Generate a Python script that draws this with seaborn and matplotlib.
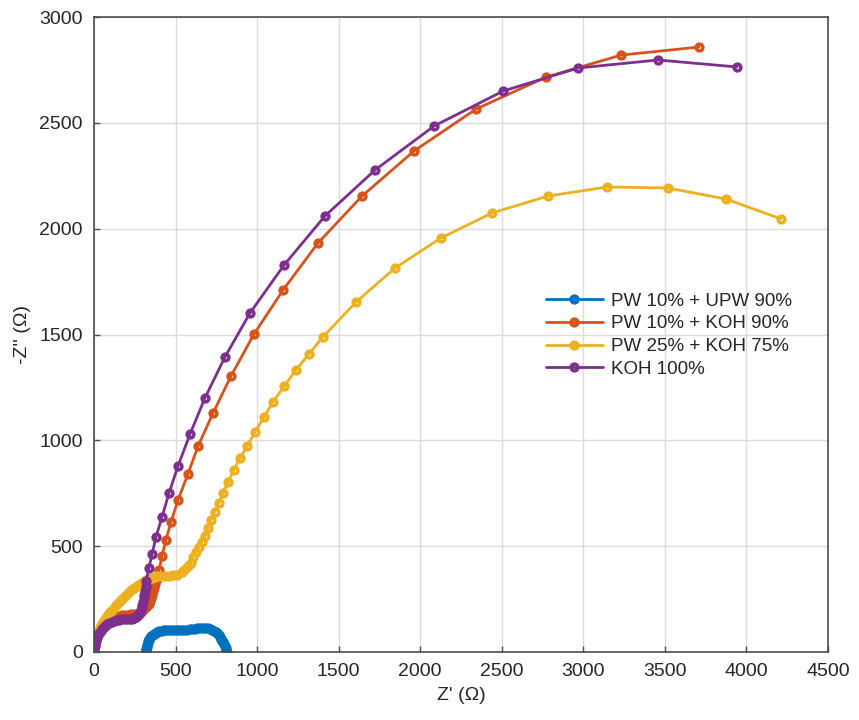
import numpy as np
import pandas as pd
import matplotlib
matplotlib.use("Agg")
import matplotlib.pyplot as plt
import seaborn as sns

# ---- data ----
series_names = ["PW 10% + UPW 90%", "PW 10% + KOH 90%", "PW 25% + KOH 75%", "KOH 100%"]
series_colors = ["#0072BD", "#D95319", "#EDB120", "#7E2F8E"]

blue_x = [318, 319, 321, 323, 326, 329, 333, 338, 344, 351, 359, 368, 378, 389, 401, 414, 428,
          443, 458, 474, 490, 506, 522, 538, 554, 570, 586, 602, 618, 634, 650, 666, 681, 696,
          710, 723, 735, 746, 756, 765, 773, 780, 787, 793, 798, 803, 807, 810, 812, 813]
blue_y = [0, 8, 16, 25, 34, 43, 52, 60, 68, 75, 81, 87, 92, 96, 99, 101, 103,
          104, 105, 105, 104, 103, 103, 103, 104, 105, 107, 109, 111, 113, 114, 115, 114, 113,
          110, 106, 101, 95, 88, 80, 72, 63, 54, 45, 36, 27, 19, 11, 5, 0]

orange_x = [0, 1, 3, 5, 8, 12, 17, 23, 30, 38, 47, 57, 68, 80, 93, 107, 122, 138, 155, 172,
            190, 208, 226, 244, 261, 276, 289, 302, 314, 325, 335, 343, 350, 356, 362, 368,
            374, 386, 399, 417, 441, 472, 515, 576, 638, 730, 840, 981, 1159, 1373, 1643,
            1962, 2342, 2771, 3231, 3709]
orange_y = [0, 12, 24, 36, 48, 60, 72, 84, 96, 107, 118, 128, 137, 145, 152, 158, 163, 167, 171, 174,
            176, 177, 178, 179, 181, 185, 191, 199, 208, 218, 228, 240, 254, 270, 286, 302,
            320, 345, 387, 453, 529, 614, 718, 841, 973, 1129, 1304, 1502, 1710, 1932, 2154,
            2367, 2565, 2716, 2820, 2858]

yellow_x = [0, 1, 3, 6, 10, 15, 21, 28, 36, 45, 55, 66, 78, 91, 105, 120, 136, 153, 170, 188,
            206, 225, 244, 263, 282, 301, 320, 338, 355, 371, 386, 411, 435, 460, 484, 510,
            539, 558, 576, 592, 607, 626, 644, 662, 681, 699, 717, 740, 766, 792, 822, 856,
            895, 940, 987, 1040, 1097, 1165, 1238, 1320, 1404, 1606, 1845, 2127, 2440, 2783,
            3145, 3519, 3875, 4212]
yellow_y = [0, 14, 28, 42, 56, 70, 84, 98, 112, 126, 140, 154, 168, 182, 196, 210, 224, 238, 252, 266,
            279, 291, 302, 313, 322, 331, 339, 345, 350, 354, 357, 359, 359, 360, 362, 364,
            378, 390, 406, 420, 449, 472, 496, 522, 548, 586, 624, 662, 704, 752, 803, 858,
            916, 975, 1039, 1108, 1181, 1255, 1332, 1410, 1489, 1653, 1814, 1956, 2074, 2154,
            2197, 2192, 2140, 2046]

purple_x = [0, 1, 2, 4, 7, 10, 14, 19, 25, 32, 40, 49, 59, 70, 82, 95, 109, 124, 140, 156,
            172, 188, 204, 219, 233, 246, 257, 266, 274, 281, 287, 292, 297, 301, 305, 309,
            313, 316, 319, 337, 356, 380, 417, 460, 515, 589, 680, 803, 956, 1165, 1416, 1723,
            2085, 2508, 2967, 3458, 3942]
purple_y = [0, 10, 20, 30, 40, 50, 60, 70, 80, 90, 99, 108, 116, 123, 130, 136, 141, 145, 149, 152,
            154, 155, 156, 157, 158, 160, 164, 170, 178, 188, 199, 211, 224, 238, 253, 270,
            290, 312, 335, 397, 463, 543, 638, 751, 879, 1030, 1200, 1394, 1601, 1828, 2060, 2277,
            2485, 2650, 2759, 2797, 2764]

frames = []
for name, xs, ys in zip(series_names,
                        [blue_x, orange_x, yellow_x, purple_x],
                        [blue_y, orange_y, yellow_y, purple_y]):
    frames.append(pd.DataFrame({"Zr": xs, "Zi": ys, "series": name}))
df = pd.concat(frames, ignore_index=True)

x_ticks = [0, 500, 1000, 1500, 2000, 2500, 3000, 3500, 4000, 4500]
y_ticks = [0, 500, 1000, 1500, 2000, 2500, 3000]

# ---- plot ----
sns.set_theme(style="whitegrid")
plt.rcParams["font.family"] = ["Liberation Sans", "DejaVu Sans"]

fig = plt.figure(figsize=(8.59, 7.2), dpi=100)
ax = fig.add_axes([94 / 859, 68 / 720, 734 / 859, 635 / 720])

for name, col in zip(series_names, series_colors):
    sub = df[df["series"] == name]
    sns.lineplot(data=sub, x="Zr", y="Zi", sort=False, estimator=None, ax=ax,
                 color=col, label=name, marker="o", markersize=4.9,
                 markerfacecolor="none", markeredgecolor=col, markeredgewidth=2.5,
                 linewidth=2.0)

ax.set_xlim(0, 4500)
ax.set_ylim(0, 3000)
ax.set_xticks(x_ticks)
ax.set_yticks(y_ticks)
ax.set_xticklabels([str(v) for v in x_ticks])
ax.set_yticklabels([str(v) for v in y_ticks])

ax.set_xlabel("Z' (Ω)", fontsize=14, color="#262626", labelpad=5)
ax.set_ylabel("-Z'' (Ω)", fontsize=14, color="#262626", labelpad=6)

ax.grid(True, color="#dcdcdc", linewidth=1.0)
ax.set_facecolor("white")
for s in ax.spines.values():
    s.set_color("#4d4d4d")
    s.set_linewidth(1.2)
ax.tick_params(axis="both", direction="in", length=4, width=1, colors="#4d4d4d",
               labelsize=14, labelcolor="#262626", pad=8, bottom=True, left=True)

leg = ax.legend(loc="upper left", bbox_to_anchor=(0.606, 0.578), frameon=False,
                fontsize=13.5, handlelength=3.0, handletextpad=0.45, labelspacing=0.3,
                borderaxespad=0)

fig.savefig("out.png", dpi=100, facecolor="white")
